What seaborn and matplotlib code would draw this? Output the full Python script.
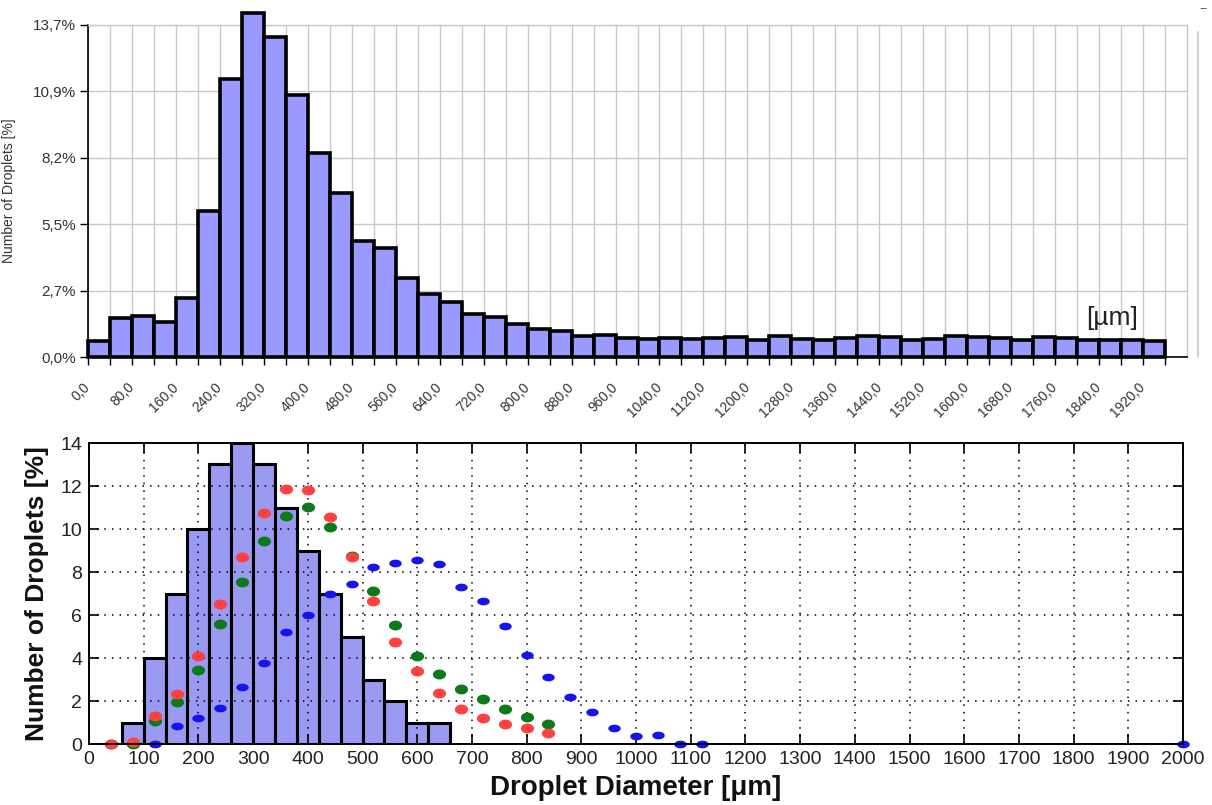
import numpy as np
import matplotlib
matplotlib.use("Agg")
import matplotlib.pyplot as plt
import seaborn as sns
from matplotlib.path import Path
from matplotlib.lines import Line2D

# ---------------- data ----------------
# top histogram: bin left edges [µm] and share of droplets [%]
top_bins = [0, 40, 80, 120, 160, 200, 240, 280, 320, 360, 400, 440, 480, 520, 560,
            600, 640, 680, 720, 760, 800, 840, 880, 920, 960, 1000, 1040, 1080, 1120,
            1160, 1200, 1240, 1280, 1320, 1360, 1400, 1440, 1480, 1520, 1560, 1600,
            1640, 1680, 1720, 1760, 1800, 1840, 1880, 1920]
top_pct = [0.67, 1.60, 1.70, 1.46, 2.45, 6.03, 11.49, 14.20, 13.20, 10.80, 8.42, 6.76,
           4.80, 4.49, 3.27, 2.60, 2.27, 1.76, 1.64, 1.36, 1.16, 1.06, 0.87, 0.91,
           0.80, 0.76, 0.80, 0.73, 0.78, 0.81, 0.70, 0.87, 0.73, 0.70, 0.77, 0.87,
           0.81, 0.70, 0.73, 0.87, 0.81, 0.77, 0.70, 0.83, 0.77, 0.70, 0.70, 0.70, 0.67]
top_ytick_vals = [0.0, 2.74, 5.48, 8.22, 10.96, 13.7]
top_ytick_labels = ["0,0%", "2,7%", "5,5%", "8,2%", "10,9%", "13,7%"]
top_xtick_vals = [0, 80, 160, 240, 320, 400, 480, 560, 640, 720, 800, 880, 960, 1040,
                  1120, 1200, 1280, 1360, 1440, 1520, 1600, 1680, 1760, 1840, 1920]
top_xtick_labels = [f"{v},0" for v in top_xtick_vals]

# bottom histogram: bin centres [µm] and share [%]
bot_centres = [80, 120, 160, 200, 240, 280, 320, 360, 400, 440, 480, 520, 560, 600, 640]
bot_pct = [1, 4, 7, 10, 13, 14, 13, 11, 9, 7, 5, 3, 2, 1, 1]

# model points
red_x = [40, 80, 120, 160, 200, 240, 280, 320, 360, 400, 440, 480, 520, 560, 600, 640,
         680, 720, 760, 800, 840]
red_y = [0.0, 0.08, 1.32, 2.33, 4.09, 6.51, 8.71, 10.76, 11.88, 11.80, 10.54, 8.71,
         6.63, 4.74, 3.41, 2.36, 1.64, 1.21, 0.93, 0.73, 0.50]
green_x = red_x
green_y = [0.0, 0.0, 1.07, 1.97, 3.44, 5.58, 7.55, 9.46, 10.62, 11.04, 10.11, 8.74,
           7.12, 5.53, 4.11, 3.26, 2.56, 2.08, 1.64, 1.27, 0.91]
blue_x = [40, 80, 120, 160, 200, 240, 280, 320, 360, 400, 440, 480, 520, 560, 600, 640,
          680, 720, 760, 800, 840, 880, 920, 960, 1000, 1040, 1080, 1120, 2000]
blue_y = [0.0, 0.0, 0.0, 0.85, 1.19, 1.69, 2.67, 3.75, 5.19, 6.00, 6.96, 7.44, 8.25,
          8.43, 8.56, 8.36, 7.32, 6.65, 5.50, 4.14, 3.13, 2.20, 1.50, 0.73, 0.37, 0.42,
          0.0, 0.0, 0.0]
bot_xticks = [0, 100, 200, 300, 400, 500, 600, 700, 800, 900, 1000, 1100, 1200, 1300,
              1400, 1500, 1600, 1700, 1800, 1900, 2000]
bot_yticks = [0, 2, 4, 6, 8, 10, 12, 14]

# ---------------- style ----------------
sns.set_theme(style="white")
plt.rcParams['font.family'] = ['Liberation Sans', 'DejaVu Sans']

fig = plt.figure(figsize=(12.12, 8.05), dpi=100)
W, H = 1212, 805
ax1 = fig.add_axes([88 / W, (H - 357) / H, 1099 / W, 332 / H])
ax2 = fig.add_axes([89 / W, (H - 744) / H, 1094 / W, 301 / H])

# ---------------- top chart ----------------
BAR = "#9999ff"
sns.histplot(x=np.array(top_bins) + 20, weights=top_pct, binwidth=40,
             binrange=(0, 1960), color=BAR, alpha=1, edgecolor="black",
             linewidth=2.6, ax=ax1, zorder=3)
for p in ax1.patches:
    p.set_clip_on(False)
ax1.set_xlim(0, 2000)
ax1.set_ylim(0, 13.7)
ax1.set_yticks(top_ytick_vals)
ax1.set_yticklabels(top_ytick_labels)
ax1.set_xticks(top_xtick_vals)
ax1.set_xticklabels(top_xtick_labels, rotation=45, ha="right", va="center",
                    rotation_mode="anchor")
ax1.set_xticks([v + 40 for v in top_xtick_vals], minor=True)
ax1.grid(True, which="both", axis="x", color="#c8c8c8", linewidth=1)
ax1.grid(True, which="major", axis="y", color="#c8c8c8", linewidth=1)
ax1.set_axisbelow(True)
ax1.tick_params(axis="both", which="both", direction="out", length=6, width=1,
                color="black", bottom=True, left=True)
ax1.tick_params(axis="x", labelsize=10, labelcolor="#333333", pad=14)
ax1.tick_params(axis="y", labelsize=11, labelcolor="#333333", pad=3)
for s in ["left", "bottom"]:
    ax1.spines[s].set_color("black")
    ax1.spines[s].set_linewidth(1.2)
for s in ["top", "right"]:
    ax1.spines[s].set_color("#c8c8c8")
    ax1.spines[s].set_linewidth(1)
ax1.set_xlabel("")
ax1.set_ylabel("Number of Droplets [%]", fontsize=10, color="#333333", labelpad=12)
ax1.text(0.9318, 0.117, "[µm]", transform=ax1.transAxes,
         fontsize=19, color="#222222", ha="center", va="center")
fig.add_artist(Line2D([1198 / W, 1198 / W], [(H - 357) / H, (H - 32) / H],
                      color="#d0d0d0", linewidth=1.5))
fig.text(1203 / W, (H - 10) / H, "−", fontsize=9, color="#555555",
         ha="center", va="center")

# ---------------- bottom chart ----------------
sns.histplot(x=bot_centres, weights=bot_pct, binwidth=40, binrange=(60, 660),
             color="#9a9af2", alpha=1, edgecolor="black", linewidth=2.2,
             ax=ax2, zorder=2)

theta = np.linspace(0, 2 * np.pi, 41)
ellipse = Path(np.column_stack([np.cos(theta), 0.75 * np.sin(theta)]), closed=True)
flat = Path(np.column_stack([np.cos(theta), 0.62 * np.sin(theta)]), closed=True)
for xs, ys, col, mk, sz in [(blue_x, blue_y, "#1414f0", flat, 80),
                            (green_x, green_y, "#0c7a1c", ellipse, 90),
                            (red_x, red_y, "#ff4040", ellipse, 90)]:
    sns.scatterplot(x=xs, y=ys, color=col, marker=mk, s=sz, linewidth=0,
                    ax=ax2, zorder=4, clip_on=False)

ax2.set_xlim(0, 2000)
ax2.set_ylim(0, 14)
ax2.set_xticks(bot_xticks)
ax2.set_yticks(bot_yticks)
ax2.grid(True, color="black", linestyle=(0, (1, 4)), linewidth=1.1)
ax2.set_axisbelow(False)
for gl in ax2.get_xgridlines() + ax2.get_ygridlines():
    gl.set_zorder(1)
ax2.tick_params(direction="in", top=True, right=True, bottom=True, left=True,
                length=7, width=1.2, color="black", labelsize=14,
                labelcolor="#222222", pad=5)
for s in ax2.spines.values():
    s.set_color("black")
    s.set_linewidth(1.4)
    s.set_zorder(5)
ax2.set_xlabel("Droplet Diameter [μm]", fontsize=20, fontweight="bold",
               color="#111111", labelpad=5)
ax2.set_ylabel("Number of Droplets [%]", fontsize=19, fontweight="bold",
               color="#111111", labelpad=8)

fig.savefig("out.png", dpi=100)
